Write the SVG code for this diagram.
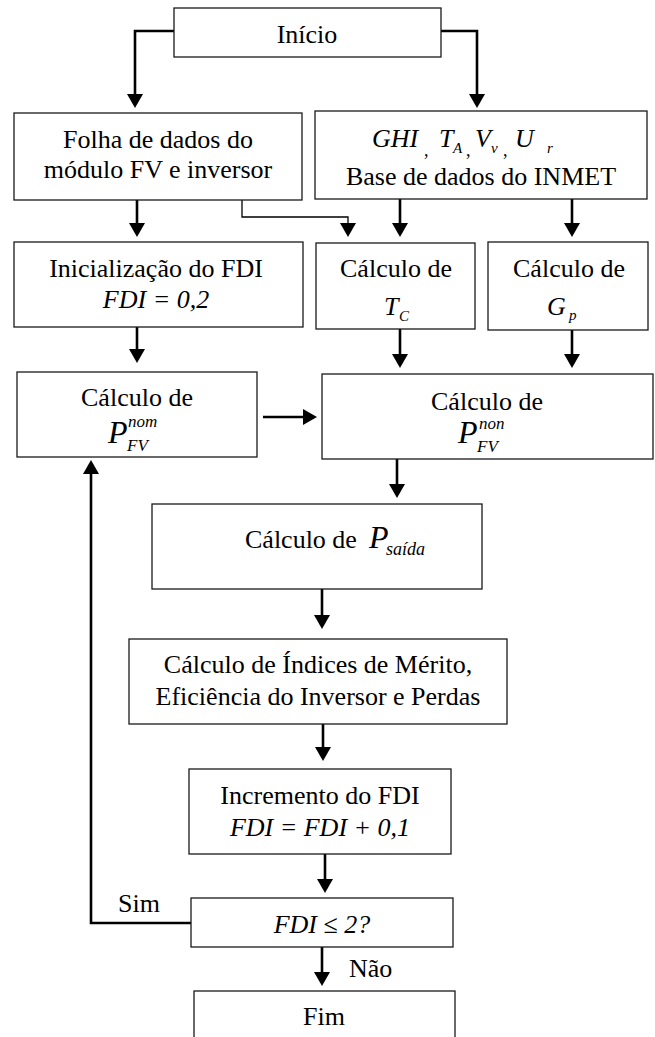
<svg xmlns="http://www.w3.org/2000/svg" width="655" height="1037" viewBox="0 0 655 1037">
<style>
text{font-family:"Liberation Serif",Tinos,"DejaVu Serif",serif;font-size:26px;fill:#000}
.c{text-anchor:middle}
.i{font-style:italic}
.box{fill:#fff;stroke:#1a1a1a;stroke-width:1.3}
.ar{fill:none;stroke:#000;stroke-width:2.6;marker-end:url(#ah)}
.thin{fill:none;stroke:#000;stroke-width:1.3;marker-end:url(#ah)}
</style>
<defs>
<marker id="ah" markerUnits="userSpaceOnUse" viewBox="0 0 14 16" refX="6" refY="8" markerWidth="14" markerHeight="16" orient="auto">
<path d="M0,0 L14,8 L0,16 Z" fill="#000"/>
</marker>
</defs>
<rect width="655" height="1037" fill="#fff"/>

<g id="connectors">
<path class="ar" d="M174,31 H135 V100"/>
<path class="ar" d="M441,31 H477 V100"/>
<path class="ar" d="M137,200 V229"/>
<path class="thin" d="M242,200 V217 H348 V229"/>
<path class="ar" d="M400,199 V229"/>
<path class="ar" d="M572,199 V229"/>
<path class="ar" d="M137,327 V355"/>
<path class="ar" d="M400,329 V360"/>
<path class="ar" d="M572,330 V360"/>
<path class="ar" d="M263,417 H309"/>
<path class="ar" d="M397,459 V490"/>
<path class="ar" d="M322,589 V621"/>
<path class="ar" d="M323,724 V753"/>
<path class="ar" d="M325,854 V885"/>
<path class="ar" d="M322,947 V978"/>
<path class="ar" d="M191,923 H91 V468"/>
<text x="118" y="912">Sim</text>
<text x="349" y="977">Não</text>
</g>

<g id="inicio">
<rect class="box" x="174" y="8" width="267" height="49"/>
<text class="c" x="307" y="43">Início</text>
</g>

<g id="folha">
<rect class="box" x="14" y="113" width="288" height="87"/>
<text class="c" x="158" y="148">Folha de dados do</text>
<text class="c" x="158" y="178">módulo FV e inversor</text>
</g>

<g id="inmet">
<rect class="box" x="315" y="111" width="332" height="88"/>
<text x="372" y="147" class="i">GHI</text>
<text x="424" y="156" style="font-size:18px">,</text>
<text x="439" y="147" class="i">T</text>
<text x="453" y="153" class="i" style="font-size:15px">A</text>
<text x="466" y="156" style="font-size:18px">,</text>
<text x="475" y="147" class="i">V</text>
<text x="491" y="153" class="i" style="font-size:15px">v</text>
<text x="503" y="156" style="font-size:18px">,</text>
<text x="515" y="147" class="i">U</text>
<text x="547" y="153" class="i" style="font-size:15px">r</text>
<text class="c" x="481" y="185">Base de dados do INMET</text>
</g>

<g id="inicializacao">
<rect class="box" x="14" y="242" width="289" height="85"/>
<text class="c" x="156" y="277">Inicialização do FDI</text>
<text class="c i" x="156" y="308">FDI = 0,2</text>
</g>

<g id="calc-tc">
<rect class="box" x="316" y="243" width="159" height="86"/>
<text class="c" x="396" y="277">Cálculo de</text>
<text x="384" y="315" class="i">T</text>
<text x="399" y="321" class="i" style="font-size:15px">C</text>
</g>

<g id="calc-gp">
<rect class="box" x="488" y="242" width="160" height="88"/>
<text class="c" x="569" y="277">Cálculo de</text>
<text x="547" y="315" class="i">G</text>
<text x="569" y="320" class="i" style="font-size:15px">p</text>
</g>

<g id="calc-pnom">
<rect class="box" x="17" y="372" width="240" height="85"/>
<text class="c" x="137" y="406">Cálculo de</text>
<text x="108" y="443" class="i" style="font-size:32px">P</text>
<text x="128" y="427" class="i" style="font-size:17px">nom</text>
<text x="127" y="451" class="i" style="font-size:17px">FV</text>
</g>

<g id="calc-pnon">
<rect class="box" x="322" y="374" width="331" height="85"/>
<text class="c" x="487" y="410">Cálculo de</text>
<text x="458" y="443" class="i" style="font-size:32px">P</text>
<text x="479" y="429" class="i" style="font-size:17px">non</text>
<text x="477" y="452" class="i" style="font-size:17px">FV</text>
</g>

<g id="calc-psaida">
<rect class="box" x="152" y="504" width="330" height="85"/>
<text x="245" y="548">Cálculo de</text>
<text x="369" y="548" class="i" style="font-size:32px">P</text>
<text x="386" y="555" class="i" style="font-size:18px">saída</text>
</g>

<g id="indices">
<rect class="box" x="129" y="639" width="378" height="85"/>
<text class="c" x="318" y="673">Cálculo de Índices de Mérito,</text>
<text class="c" x="318" y="705">Eficiência do Inversor e Perdas</text>
</g>

<g id="incremento">
<rect class="box" x="189" y="769" width="262" height="85"/>
<text class="c" x="320" y="804">Incremento do FDI</text>
<text class="c i" x="320" y="836">FDI = FDI + 0,1</text>
</g>

<g id="decisao">
<rect class="box" x="191" y="898" width="262" height="49"/>
<text class="c i" x="322" y="933">FDI ≤ 2?</text>
</g>

<g id="fim">
<rect class="box" x="194" y="991" width="261" height="60"/>
<text class="c" x="324" y="1025">Fim</text>
</g>
</svg>
